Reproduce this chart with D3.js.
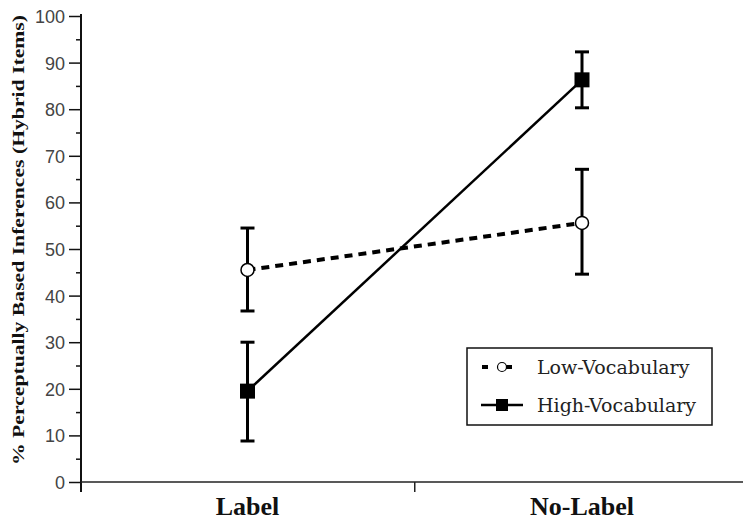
<!DOCTYPE html>
<html><head><meta charset="utf-8">
<script src="https://cdn.jsdelivr.net/npm/d3@7/dist/d3.min.js"></script>
<style>body{margin:0;background:#fff}svg{display:block}</style>
</head><body>
<script>
const categories = ["Label", "No-Label"];
const seriesNames = ["Low-Vocabulary", "High-Vocabulary"];
const lowMean = [45.5, 55.6];
const lowLower = [36.7, 44.6];
const lowUpper = [54.5, 67.1];
const highMean = [19.5, 86.3];
const highLower = [8.8, 80.3];
const highUpper = [30.0, 92.3];
const yTicks = [0,10,20,30,40,50,60,70,80,90,100];
const yMinorTicks = [5,15,25,35,45,55,65,75,85,95];
const yTitle = "% Perceptually Based Inferences (Hybrid Items)";

const W = 743, H = 522;
const svg = d3.select("body").append("svg").attr("width", W).attr("height", H);

const y = d3.scaleLinear().domain([0, 100]).range([482, 16]);
const x = d3.scalePoint().domain(categories).range([247.5, 582]);
const xLeft = 81;

// y axis
const yAxis = d3.axisLeft(y).tickValues(yTicks).tickSize(12).tickPadding(4).tickSizeOuter(0);
const gy = svg.append("g").attr("transform", `translate(${xLeft},0)`).call(yAxis);
gy.select(".domain").remove();
gy.selectAll(".tick line").attr("stroke", "#111").attr("stroke-width", 1.5);
gy.selectAll(".tick text").attr("font-family", "Liberation Sans, Arial, sans-serif")
  .attr("font-size", 18).attr("fill", "#444").attr("dy", "0.36em");
const gym = svg.append("g").attr("transform", `translate(${xLeft},0)`)
  .call(d3.axisLeft(y).tickValues(yMinorTicks).tickSize(5).tickFormat(""));
gym.select(".domain").remove();
gym.selectAll(".tick line").attr("stroke", "#111").attr("stroke-width", 1.5);
svg.append("line").attr("x1", xLeft).attr("x2", xLeft).attr("y1", y(100)-2).attr("y2", y(0)+10)
  .attr("stroke", "#111").attr("stroke-width", 2);

// x axis
svg.append("line").attr("x1", xLeft).attr("x2", W).attr("y1", y(0)).attr("y2", y(0))
  .attr("stroke", "#222").attr("stroke-width", 1.5);
const mid = (x(categories[0]) + x(categories[1])) / 2;
svg.append("line").attr("x1", mid).attr("x2", mid).attr("y1", y(0)).attr("y2", y(0)+10)
  .attr("stroke", "#222").attr("stroke-width", 1.5);
svg.selectAll(".xlab").data(categories).enter().append("text")
  .attr("x", d => x(d)).attr("y", 515).attr("text-anchor", "middle")
  .attr("font-family", "Liberation Serif, Times New Roman, serif").attr("font-weight", "bold")
  .attr("font-size", 26).attr("fill", "#111").text(d => d);

// y title
svg.append("text").attr("transform", `translate(24,${240}) rotate(-90)`)
  .attr("text-anchor", "middle").attr("font-family", "Liberation Serif, Times New Roman, serif")
  .attr("font-weight", "bold").attr("font-size", 17).attr("fill", "#111")
  .attr("textLength", 450).attr("lengthAdjust", "spacingAndGlyphs").text(yTitle);

const line = d3.line().x((d, i) => x(categories[i])).y(d => y(d));

// error bars
function errBars(lo, hi) {
  categories.forEach((c, i) => {
    const cx = x(c);
    svg.append("line").attr("x1", cx).attr("x2", cx).attr("y1", y(lo[i])).attr("y2", y(hi[i]))
      .attr("stroke", "#000").attr("stroke-width", 3);
    [lo[i], hi[i]].forEach(v => {
      svg.append("line").attr("x1", cx-7).attr("x2", cx+7).attr("y1", y(v)).attr("y2", y(v))
        .attr("stroke", "#000").attr("stroke-width", 3);
    });
  });
}
errBars(lowLower, lowUpper);
errBars(highLower, highUpper);

// lines
svg.append("path").datum(lowMean).attr("d", line).attr("fill", "none")
  .attr("stroke", "#000").attr("stroke-width", 4).attr("stroke-dasharray", "8,6");
svg.append("path").datum(highMean).attr("d", line).attr("fill", "none")
  .attr("stroke", "#000").attr("stroke-width", 2.5);

// markers
svg.selectAll(".lowpt").data(lowMean).enter().append("circle")
  .attr("cx", (d, i) => x(categories[i])).attr("cy", d => y(d)).attr("r", 6.5)
  .attr("fill", "#fff").attr("stroke", "#000").attr("stroke-width", 1.5);
svg.selectAll(".highpt").data(highMean).enter().append("rect")
  .attr("x", (d, i) => x(categories[i]) - 7.5).attr("y", d => y(d) - 7.5)
  .attr("width", 15).attr("height", 15).attr("fill", "#000");

// legend
const lg = svg.append("g");
lg.append("rect").attr("x", 467).attr("y", 348).attr("width", 245).attr("height", 77)
  .attr("fill", "#fff").attr("stroke", "#111").attr("stroke-width", 1.5);
const rows = [367, 405];
// low
lg.append("line").attr("x1", 482).attr("x2", 522).attr("y1", rows[0]).attr("y2", rows[0])
  .attr("stroke", "#000").attr("stroke-width", 4).attr("stroke-dasharray", "6,18");
lg.append("circle").attr("cx", 502).attr("cy", rows[0]).attr("r", 4.5)
  .attr("fill", "#fff").attr("stroke", "#000").attr("stroke-width", 1.2);
// high
lg.append("line").attr("x1", 481).attr("x2", 523).attr("y1", rows[1]).attr("y2", rows[1])
  .attr("stroke", "#000").attr("stroke-width", 2.5);
lg.append("rect").attr("x", 496).attr("y", rows[1]-6).attr("width", 12).attr("height", 12).attr("fill", "#000");
lg.selectAll(".lt").data(seriesNames).enter().append("text")
  .attr("x", 537).attr("y", (d, i) => rows[i]).attr("dy", "0.35em")
  .attr("font-family", "DejaVu Serif, serif").attr("font-size", 19).attr("fill", "#222")
  .text(d => d);
</script>
</body></html>
